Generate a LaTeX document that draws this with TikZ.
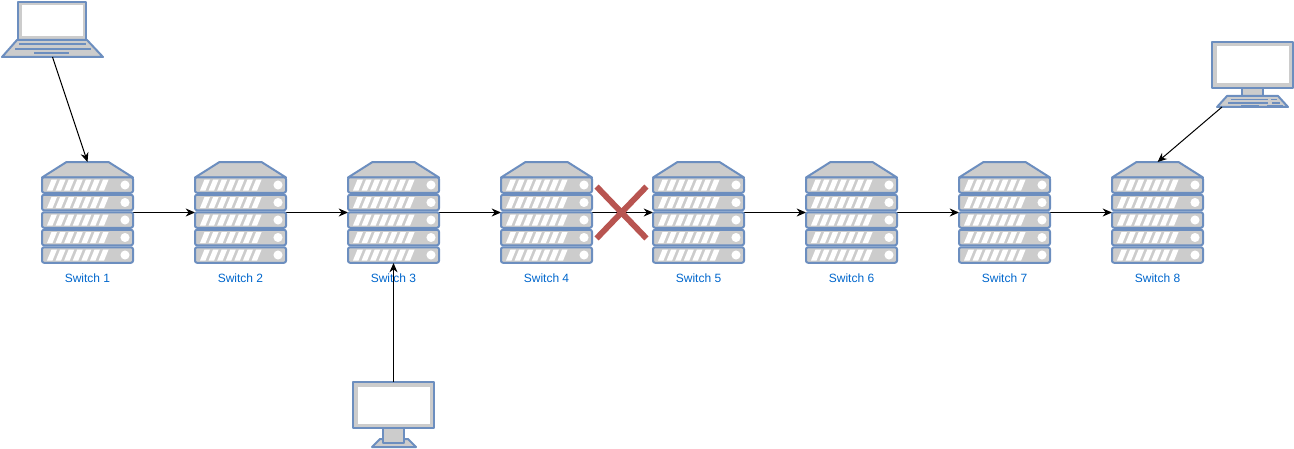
\documentclass[tikz,border=0pt]{standalone}
\usepackage{fontspec}
\setmainfont{Liberation Sans}
\usetikzlibrary{%
  arrows.meta,%
  shapes.misc,%
  chains%
}
\definecolor{iconline}{HTML}{6C8EBF}
\definecolor{iconfill}{HTML}{CCCCCC}
\definecolor{labelblue}{HTML}{0066CC}
\definecolor{crossred}{HTML}{B85450}

\begin{document}
\begin{tikzpicture}[
    x=0.75pt,y=-0.75pt,
    >={Stealth[length=7pt,width=6pt]},
    link/.style={->,line width=0.75pt,black},
    icon/.style={draw=iconline,fill=iconfill,line width=1.5pt,line join=round},
    screen/.style={fill=white},
    keys/.style={iconline,line width=1.3pt},
    stripe/.style={fill=white},
    switchbox/.style={on chain,join=by link,
        minimum width=68.25pt,minimum height=75.75pt,inner sep=0pt,outer sep=0pt,
        label={[labelblue,font=\fontsize{9}{11}\selectfont,label distance=4.6pt]below:#1}},
    iconbox/.style={minimum width=#1,inner sep=0pt,outer sep=0pt},
    node distance=46.5pt
  ]

    \useasboundingbox (0,0) rectangle (1294,449);

    \begin{scope}[start chain=going right]
        \node [switchbox=Switch 1] (sw1) at (87.5,212.5) {};
        \node [switchbox=Switch 2] (sw2) {};
        \node [switchbox=Switch 3] (sw3) {};
        \node [switchbox=Switch 4] (sw4) {};
        \node [switchbox=Switch 5,xshift=-0.75pt] (sw5) {};
        \node [switchbox=Switch 6] (sw6) {};
        \node [switchbox=Switch 7] (sw7) {};
        \node [switchbox=Switch 8] (sw8) {};
    \end{scope}

    % switch icons
    \foreach \n in {1,...,8} {
        \begin{scope}[shift={(sw\n.center)}]
            \draw [icon] (-45.5,-35) -- (-21,-50.5) -- (21,-50.5) -- (45.5,-35) -- cycle;
            \foreach \y in {-27.5,-10,7.5,25,42.5} {
                \draw [icon,rounded corners=1.5pt] (-45.5,\y-7.75) rectangle (45.5,\y+7.75);
                \fill [white] (37.5,\y) circle [radius=3.4pt];
                \foreach \i in {0,...,6}
                    \fill [stripe] (-40.5+8.6*\i,\y+5.5) -- (-35+8.6*\i,\y+5.5)
                        -- (-30.5+8.6*\i,\y-5.5) -- (-36+8.6*\i,\y-5.5) -- cycle;
            }
        \end{scope}
    }

    % laptop
    \node [iconbox=75.75pt,minimum height=41.25pt] (laptop) at (52.5,29.5) {};
    \draw [icon] (18,2) rectangle (86,40);
    \fill [screen] (21.5,5.5) rectangle (82.5,36.5);
    \draw [icon] (17,40) -- (87,40) -- (103,57) -- (2,57) -- cycle;
    \draw [keys] (19,44) -- (86,44);
    \draw [keys] (15,49) -- (91,49);
    \draw [keys] (34,53) -- (69,53);

    % monitor with keyboard
    \node [iconbox=60.75pt,minimum height=48.75pt] (pc8) at (1252.5,74.5) {};
    \coordinate (pc8 foot) at (1222,107);
    \draw [icon] (1242,88) rectangle (1263,97);
    \draw [icon] (1212,42) rectangle (1293,88);
    \fill [screen] (1216.5,46.5) rectangle (1288.5,83.5);
    \draw [icon] (1227,96) -- (1278,96) -- (1288,107) -- (1217,107) -- cycle;
    \draw [keys] (1231,99.5) -- (1268,99.5);
    \draw [keys] (1271,99.5) -- (1277,99.5);
    \draw [keys] (1228,103) -- (1268,103);
    \draw [keys] (1272,103) -- (1280,103);
    \draw [keys] (1241,105.5) -- (1259,105.5);
    \draw [keys] (1267,105.5) -- (1283,105.5);

    % monitor below switch 3
    \node [iconbox=60.75pt,minimum height=48.75pt] (pc3) at (393.5,414.5) {};
    \draw [icon] (380,439) -- (408,439) -- (416,447) -- (372,447) -- cycle;
    \draw [icon] (383,428) rectangle (404,443);
    \draw [icon] (353,382) rectangle (434,428);
    \fill [screen] (357.5,386.5) rectangle (429.5,423.5);

    % connections from the hosts
    \draw [link] (laptop.south) -- (sw1.north);
    \draw [link] (pc8 foot) -- (sw8.north);
    \draw [link] (pc3.north) -- (sw3.south);

    % broken link
    \node [cross out,draw=crossred,line width=4.4pt,minimum width=33pt,minimum height=34.5pt,
        inner sep=0pt] (fail) at (621.5,212.5) {};
\end{tikzpicture}
\end{document}
